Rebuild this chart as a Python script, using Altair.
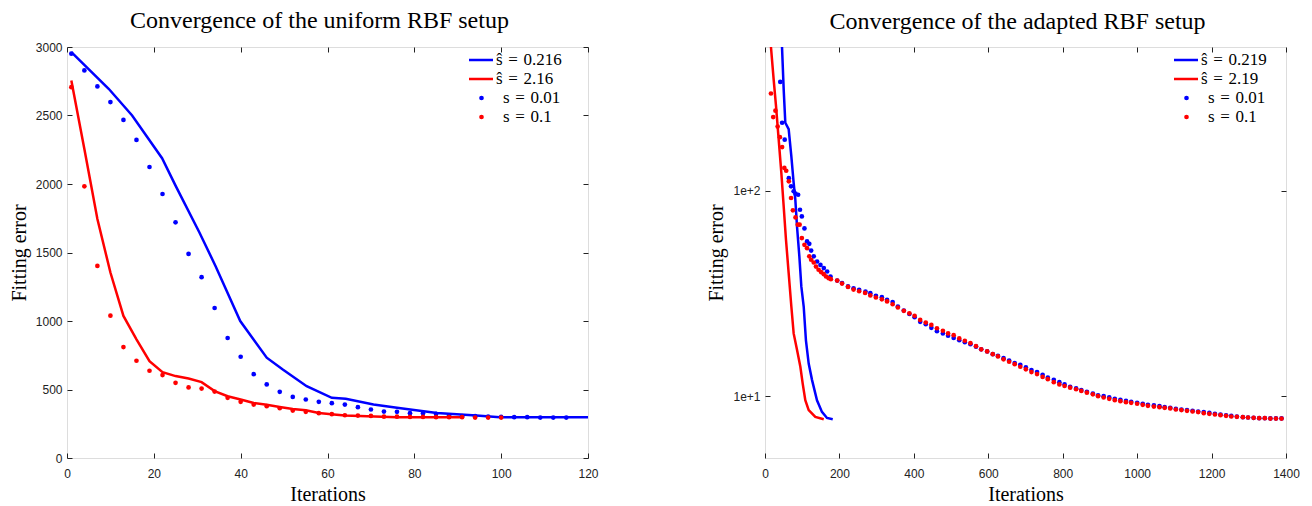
import altair as alt
import pandas as pd

BLUE = "#0000ff"
RED = "#ff0000"
SERIF = "Liberation Serif"
SANS = "Liberation Sans"
SP = "\u2004"  # slightly wider space, as around "=" in typeset maths

# ---------------- left panel: uniform RBF setup ----------------
u_title = "Convergence of the uniform RBF setup"
u_line_names = [f"ŝ{SP}={SP}0.216", f"ŝ{SP}={SP}2.16"]
u_dot_names = [f"s{SP}={SP}0.01", f"s{SP}={SP}0.1"]
u_x_ticks = [0, 20, 40, 60, 80, 100, 120]
u_y_ticks = [0, 500, 1000, 1500, 2000, 2500, 3000]

u_l1_it = [1, 9.6, 15, 21.9, 25, 30.5, 34.2, 39.9, 46, 49.7, 55.2, 61, 64.2, 70.6, 76, 85.2, 94.3, 99.7, 120]
u_l1_err = [2963, 2695, 2500, 2188, 1988, 1646, 1402, 1000, 732, 646, 524, 439, 432, 390, 366, 329, 310, 298, 298]

u_l2_it = [1, 4, 7, 10, 13, 16, 19, 22, 25, 28, 31, 34, 37, 40, 43, 46, 49, 52, 55, 58, 61.5, 64, 76, 91]
u_l2_err = [2756, 2256, 1744, 1354, 1037, 866, 707, 627, 598, 580, 554, 488, 451, 427, 402, 388, 373, 358, 349, 329, 317, 310, 298, 298]

u_d1_it = [1, 4, 7, 10, 13, 16, 19, 22, 25, 28, 31, 34, 37, 40, 43, 46, 49, 52, 55, 58,
           61, 64, 67, 70, 73, 76, 79, 82, 85, 88, 91, 94, 97, 100, 103, 106, 109, 112, 115]
u_d1_err = [2951, 2829, 2712, 2598, 2468, 2322, 2124, 1927, 1720, 1490, 1320, 1095, 876, 739, 612, 537, 483, 446, 427, 410,
            400, 390, 371, 354, 339, 337, 327, 327, 322, 310, 305, 305, 302, 300, 298, 298, 295, 295, 295]

u_d2_it = [1, 4, 7, 10, 13, 16, 19, 22, 25, 28, 31, 34, 37, 40, 43, 46, 49, 52, 55, 58,
           61, 64, 67, 70, 73, 76, 79, 82, 85, 88, 91, 94, 97, 100]
u_d2_err = [2707, 1983, 1402, 1039, 810, 710, 637, 605, 549, 515, 507, 485, 439, 410, 390, 378, 363, 346, 337, 327,
            320, 312, 310, 307, 302, 302, 300, 300, 298, 298, 298, 295, 295, 295]

# ---------------- right panel: adapted RBF setup ----------------
a_title = "Convergence of the adapted RBF setup"
a_line_names = [f"ŝ{SP}={SP}0.219", f"ŝ{SP}={SP}2.19"]
a_dot_names = [f"s{SP}={SP}0.01", f"s{SP}={SP}0.1"]
a_x_ticks = [0, 200, 400, 600, 800, 1000, 1200, 1400]
a_y_ticks = [10, 100]

a_l1_it = [45.7, 50.2, 54.6, 63.6, 70.8, 77, 81.5, 86, 92.3, 97.6, 104, 110, 117.4, 126.3, 139.7, 153, 166.6, 182]
a_l1_err = [500, 311, 214, 199, 147, 109, 90.4, 67, 47.9, 34.2, 27.3, 18.7, 14.4, 12.0, 9.55, 8.38, 7.83, 7.72]

a_l2_it = [16, 23.3, 29.6, 36.8, 43.9, 50.2, 56.4, 63.6, 70.8, 77, 86, 95, 101.3, 108.3, 117.4, 135.2, 157.8]
a_l2_err = [500, 347, 258, 177, 122, 83.8, 57.7, 39.7, 27.3, 20.2, 16.8, 13.9, 11.5, 9.55, 8.55, 7.92, 7.72]

a_tail_it = [314, 328, 343, 357, 373, 388, 402, 417, 432, 447, 462, 478, 492, 507, 522, 537, 552, 567, 581, 597,
             612, 626, 641, 656, 671, 686, 701, 716, 731, 746, 760, 776, 791, 805, 820, 836, 850, 865, 881, 895,
             910, 925, 940, 955, 970, 984, 1000, 1015, 1029, 1045, 1060, 1074, 1089, 1104, 1119, 1134, 1149, 1164, 1179, 1194,
             1209, 1224, 1239, 1253, 1268, 1284, 1298, 1313, 1328, 1343, 1358, 1373, 1388]

a_d1_it = [41, 46, 53, 64, 70, 77, 82, 89, 94, 99, 106, 113, 119, 124, 131, 140, 149, 158, 167, 176,
           194, 207, 223, 238, 253, 270, 283, 298] + a_tail_it
a_d1_err = [338, 214, 177, 115, 105, 99.3, 96.7, 95.5, 80.7, 74.9, 65.5, 56.6, 55.1, 51.1, 47.9, 45.2, 43.5, 42.0, 40.4, 38.2,
            36.5, 35.5, 34.2, 33.5, 32.9, 32.3, 31.7, 30.8,
            30.3, 29.4, 28.7, 27.3, 26.1, 25.1, 24.2, 23.0, 22.4, 21.5, 20.7, 20.2, 19.7, 19.2, 18.7, 18.3, 17.9, 17.4, 16.9, 16.5,
            16.0, 15.7, 15.3, 14.9, 14.5, 14.2, 13.8, 13.4, 13.1, 12.7, 12.3, 12.0, 11.7, 11.4, 11.1, 10.9, 10.7, 10.5, 10.3, 10.1,
            10.0, 9.86, 9.70, 9.59, 9.48, 9.38, 9.28, 9.17, 9.07, 9.01, 8.94, 8.84, 8.77, 8.67, 8.61, 8.55, 8.48, 8.42, 8.36, 8.29,
            8.20, 8.14, 8.07, 8.01, 7.96, 7.90, 7.87, 7.84, 7.81, 7.81, 7.79, 7.79, 7.79]

a_d2_it = [16, 22, 28, 34, 40, 46, 52, 57, 64, 70, 75, 82, 88, 93, 99, 106, 113, 119, 124, 131,
           137, 144, 151, 158, 164, 171, 177, 194, 207, 223, 238, 253, 269, 283, 298] + a_tail_it
a_d2_err = [297, 228, 245, 205, 182, 163, 129, 125, 111, 92.1, 80.2, 74.1, 68.3, 68.3, 58.8, 54.5, 52.5, 47.9, 46.1, 44.7,
            42.7, 41.2, 40.1, 39.2, 38.2, 37.5, 37.1, 36.5, 35.3, 34.0, 33.0, 32.4, 31.8, 30.9, 30.2,
            29.6, 28.9, 28.0, 27.0, 26.0, 25.3, 24.6, 23.5, 22.8, 22.2, 21.4, 20.8, 20.2, 19.8, 19.1, 18.6, 18.1, 17.5, 16.9, 16.5,
            16.0, 15.6, 15.1, 14.7, 14.3, 13.9, 13.5, 13.1, 12.8, 12.4, 12.1, 11.7, 11.4, 11.2, 11.0, 10.8, 10.6, 10.4, 10.2, 10.0,
            9.85, 9.70, 9.56, 9.45, 9.35, 9.28, 9.18, 9.07, 8.97, 8.90, 8.84, 8.77, 8.71, 8.61, 8.55, 8.48, 8.42, 8.36, 8.26, 8.20,
            8.14, 8.08, 8.02, 7.96, 7.93, 7.90, 7.87, 7.84, 7.81, 7.81, 7.78, 7.78, 7.78]


def frame(series):
    rows = []
    for name, its, errs in series:
        for i, e in zip(its, errs):
            rows.append({"it": i, "err": e, "series": name})
    return pd.DataFrame(rows)


def tick_axis(**kw):
    base = dict(grid=False, domain=False, offset=-5, tickSize=5, tickColor="#222", tickWidth=1,
                labelFont=SANS, labelFontSize=12, labelColor="#222",
                titleFont=SERIF, titleFontSize=20, titleFontWeight="normal", titleColor="#000")
    base.update(kw)
    return alt.Axis(**base)


def panel(title, line_names, dot_names, lines, dots, xdom, xticks, ydom, yticks, ytype, yfmt,
          legx, title_offset, width, height):
    xsc = alt.Scale(domain=xdom, nice=False, zero=False)
    if ytype == "log":
        ysc = alt.Scale(type="log", domain=ydom, nice=False)
    else:
        ysc = alt.Scale(domain=ydom, nice=False, zero=False)

    leg_common = dict(title=None, orient="none", legendX=legx, labelFont=SERIF, labelFontSize=17,
                      labelColor="#000", clipHeight=19, rowPadding=0, padding=0)

    line_layer = alt.Chart(frame(lines)).mark_line(strokeWidth=2.5, clip=True).encode(
        x=alt.X("it:Q", scale=xsc,
                axis=tick_axis(orient="bottom", values=xticks, format="d", title="Iterations",
                               labelPadding=10, titlePadding=5, labelFlush=False)),
        y=alt.Y("err:Q", scale=ysc,
                axis=tick_axis(orient="left", values=yticks, format=yfmt, title="Fitting error",
                               labelPadding=5, titlePadding=6, labelFlush=False)),
        color=alt.Color("series:N", scale=alt.Scale(domain=line_names, range=[BLUE, RED]),
                        legend=alt.Legend(legendY=3.5, symbolType="stroke", symbolSize=576,
                                          symbolStrokeWidth=2.5, labelOffset=1.5, **leg_common)),
    )
    dot_layer = alt.Chart(frame(dots)).mark_circle(size=22, opacity=1, clip=True).encode(
        x=alt.X("it:Q", scale=xsc,
                axis=tick_axis(orient="top", values=xticks, labels=False, title="")),
        y=alt.Y("err:Q", scale=ysc,
                axis=tick_axis(orient="right", values=yticks, labels=False, title="")),
        color=alt.Color("series:N", scale=alt.Scale(domain=dot_names, range=[BLUE, RED]),
                        legend=alt.Legend(legendY=41.5, symbolType="circle", symbolSize=22,
                                          symbolOffset=5.5, labelOffset=13, **leg_common)),
    )
    return alt.layer(line_layer, dot_layer).resolve_scale(color="independent").resolve_axis(
        x="independent", y="independent").properties(
        width=width, height=height,
        title=alt.TitleParams(title, font=SERIF, fontSize=24, fontWeight="normal", color="#000",
                              anchor="middle", frame="group", offset=title_offset, dx=-8))


left = panel(u_title, u_line_names, u_dot_names,
             [(u_line_names[0], u_l1_it, u_l1_err), (u_line_names[1], u_l2_it, u_l2_err)],
             [(u_dot_names[0], u_d1_it, u_d1_err), (u_dot_names[1], u_d2_it, u_d2_err)],
             [0, 120], u_x_ticks, [0, 3000], u_y_ticks, "linear", "d", 400.5, 8, 521, 411)

right = panel(a_title, a_line_names, a_dot_names,
              [(a_line_names[0], a_l1_it, a_l1_err), (a_line_names[1], a_l2_it, a_l2_err)],
              [(a_dot_names[0], a_d1_it, a_d1_err), (a_dot_names[1], a_d2_it, a_d2_err)],
              [0, 1400], a_x_ticks, [5, 500], a_y_ticks, "log", ".0e", 407.5, 13, 521, 411)

chart = alt.hconcat(left, right, spacing=107).properties(
    padding={"left": 0, "top": 0, "right": 0, "bottom": 0}
).configure_view(stroke="#000", strokeWidth=1).configure(background="white")

chart.save("out.html", embed_options={"renderer": "svg", "actions": False})
